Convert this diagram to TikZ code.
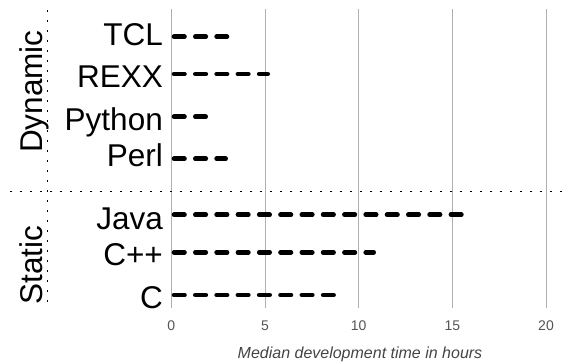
\documentclass[tikz,border=0pt]{standalone}
\usepackage{fontspec}
\setmainfont{Liberation Sans}
\begin{document}
\begin{tikzpicture}[x=1pt,y=-1pt,
  grid/.style={draw={rgb,255:red,175;green,175;blue,175},line width=1pt},
  sep/.style={draw=black,line width=1pt,dash pattern=on 2pt off 8pt},
  bar/.style={draw=black,line width=4.6pt,line cap=round,dash pattern=on 10.5pt off 10.8pt},
  lang/.style={anchor=base east,inner sep=0pt,font=\fontsize{31.5}{34}\selectfont},
  group/.style={rotate=90,anchor=base,inner sep=0pt,font=\fontsize{31.5}{34}\selectfont},
  tick/.style={anchor=base,inner sep=0pt,text={rgb,255:red,85;green,85;blue,85},font=\fontsize{14}{16}\selectfont},
  axtitle/.style={anchor=base,inner sep=0pt,text={rgb,255:red,68;green,68;blue,68},font=\fontsize{16}{18}\selectfont\itshape}]
\useasboundingbox (0,0) rectangle (568,362);
% grid lines
\foreach \v/\x in {0/171.3,5/265,10/358.7,15/452.3,20/546}{
  \coordinate (g\v t) at (\x,9);
  \coordinate (g\v b) at (\x,308);
  \draw[grid] (g\v t) -- (g\v b);
  \node[tick] (t\v) at (\x,330.7) {\v};
}
\node[axtitle] (xtitle) at (360,358.3) {Median development time in hours};
% separators
\coordinate (hl) at (10,191.7);
\coordinate (hr) at (568,191.7);
\draw[sep] (hl) -- (hr);
\coordinate (vt) at (47.3,10);
\coordinate (vb) at (47.3,306);
\draw[sep] (vt) -- (vb);
% group labels
\node[group] (dyn) at (42,91.7) {Dynamic};
\node[group] (sta) at (42,265) {Static};
% languages
\foreach \n/\lab/\yb/\yl/\xe in {
  tcl/TCL/36.7/45/227,
  rexx/REXX/74/87.3/267.7,
  py/Python/116.7/130/205.7,
  perl/Perl/158.7/166.7/225.7,
  java/Java/214.7/229.3/461.7,
  cpp/C++/252.3/265/373.7,
  c/C/295/308.3/333.7}{
  \node[lang] (\n) at (163,\yl) {\lab};
  \coordinate (\n s) at (174,\yb);
  \coordinate (\n e) at (\xe,\yb);
  \draw[bar] (\n s) -- (\n e);
}
\end{tikzpicture}
\end{document}
